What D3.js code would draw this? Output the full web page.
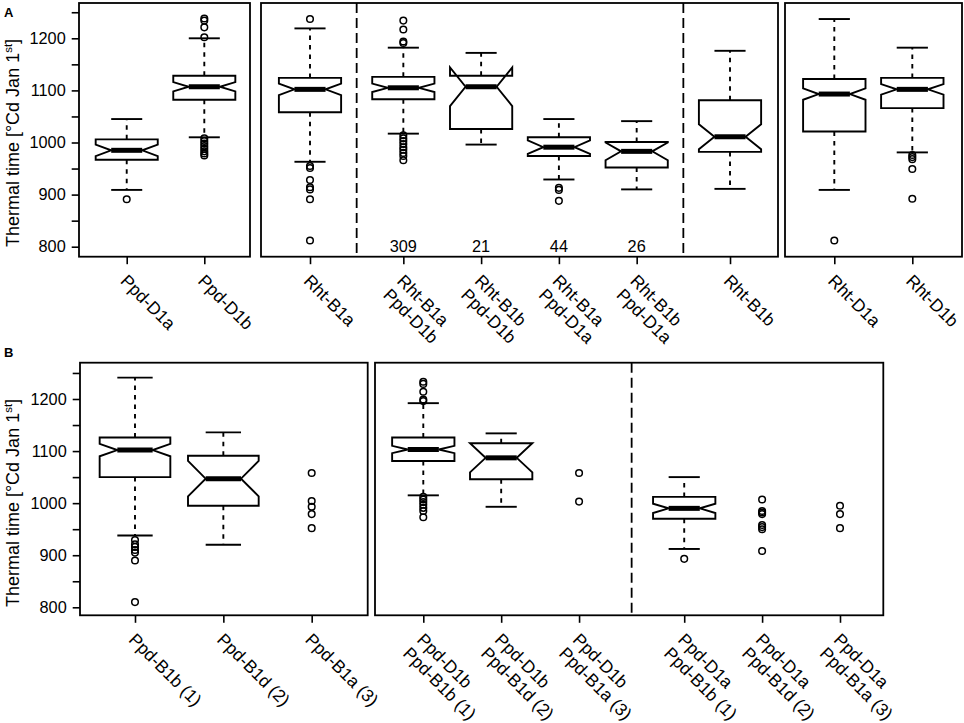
<!DOCTYPE html>
<html><head><meta charset="utf-8">
<script src="https://cdn.jsdelivr.net/npm/d3@7"></script>
<style>
body{margin:0;background:#fff}
svg{display:block}
text{font-family:"Liberation Sans",Arial,Helvetica,sans-serif;fill:#000}
</style>
</head><body>
<svg id="c" width="964" height="723"></svg>
<script>
// ---------------- DATA ----------------
const yTickValues = [800, 850, 900, 950, 1000, 1050, 1100, 1150, 1200, 1250];
const yTickLabels = [800, 900, 1000, 1100, 1200];
const yTitleMain = "Thermal time [°Cd Jan 1";
const yTitleSup = "st";
const yTitleEnd = "]";
const rowLabels = ["A", "B"];

// stats: [lower whisker, Q1, median, Q3, upper whisker]; notch = half-width of notch (units)
const a1Cats = ["Ppd-D1a", "Ppd-D1b"];
const a1Stats = [[909, 967, 985, 1006, 1045], [1010, 1082, 1107, 1128, 1200]];
const a1Notch = [11, 9];
const a1Out = [[891], [1238, 1234, 1221, 1202, 1008, 1003, 998, 993, 988, 983, 979, 975]];

const a2Cats = ["Rht-B1a", "Rht-B1a\nPpd-D1b", "Rht-B1b\nPpd-D1b", "Rht-B1a\nPpd-D1a", "Rht-B1b\nPpd-D1a", "Rht-B1b"];
const a2Groups = [1, 4, 1];
const a2Stats = [[963, 1058, 1102, 1124, 1219], [1017, 1083, 1105, 1126, 1182], [996, 1026, 1107, 1128, 1172],
                 [929, 974, 991, 1010, 1045], [910, 952, 983, 1001, 1041], [911, 982, 1011, 1081, 1176]];
const a2Notch = [11, 8, 37, 13, 17, 24];
const a2Out = [[1237, 955, 951, 928, 914, 910, 891, 812],
               [1234, 1217, 1194, 1191, 1014, 1008, 1003, 997, 991, 986, 980, 974, 966],
               [], [913, 909, 888], [], []];
const a2Counts = ["", "309", "21", "44", "26", ""];

const a3Cats = ["Rht-D1a", "Rht-D1b"];
const a3Stats = [[909, 1021, 1093, 1122, 1237], [981, 1066, 1102, 1124, 1182]];
const a3Notch = [11, 10];
const a3Out = [[812], [976, 972, 968, 949, 892]];

const b1Cats = ["Ppd-B1b (1)", "Ppd-B1d (2)", "Ppd-B1a (3)"];
const b1Stats = [[938, 1050, 1102, 1126, 1241], [920, 995, 1047, 1091, 1136], null];
const b1Notch = [12, 34, 0];
const b1Out = [[929, 921, 916, 910, 905, 890, 810], [], [1058, 1004, 993, 979, 952]];

const b2Cats = ["Ppd-D1b\nPpd-B1b (1)", "Ppd-D1b\nPpd-B1d (2)", "Ppd-D1b\nPpd-B1a (3)",
                "Ppd-D1a\nPpd-B1b (1)", "Ppd-D1a\nPpd-B1d (2)", "Ppd-D1a\nPpd-B1a (3)"];
const b2Groups = [3, 3];
const b2Stats = [[1015, 1081, 1103, 1126, 1192], [993, 1046, 1087, 1115, 1134], null,
                 [912, 970, 990, 1012, 1050], null, null];
const b2Notch = [7, 28, 0, 9, 0, 0];
const b2Out = [[1233, 1229, 1214, 1199, 1196, 1012, 1007, 1002, 997, 991, 985, 973],
               [], [1058, 1003], [893], [1007, 985, 982, 979, 958, 954, 950, 908], [995, 979, 952]];

// ---------------- LAYOUT ----------------
const rows = {
  A: {top: 3, bottom: 256.7, yDomain: [800, 1200], yRange: [246.7, 38.3], label: [4, 16.5], titleY: 143},
  B: {top: 362.7, bottom: 615.3, yDomain: [800, 1200], yRange: [607.3, 399], label: [4, 357], titleY: 503}
};
const panels = [
  {row: "A", x0: 79, x1: 250, mL: 0.615, mR: 0.589, gap: 0, cats: a1Cats, groups: [2], stats: a1Stats, notch: a1Notch, out: a1Out, yAxis: true},
  {row: "A", x0: 261, x1: 778, mL: 0.63, mR: 0.617, gap: 0.2, cats: a2Cats, groups: a2Groups, stats: a2Stats, notch: a2Notch, out: a2Out, counts: a2Counts},
  {row: "A", x0: 785, x1: 962, mL: 0.632, mR: 0.637, gap: 0, cats: a3Cats, groups: [2], stats: a3Stats, notch: a3Notch, out: a3Out},
  {row: "B", x0: 80, x1: 367.7, mL: 0.6225, mR: 0.634, gap: 0, cats: b1Cats, groups: [3], stats: b1Stats, notch: b1Notch, out: b1Out, yAxis: true},
  {row: "B", x0: 375, x1: 883.3, mL: 0.62, mR: 0.556, gap: 0.35, cats: b2Cats, groups: b2Groups, stats: b2Stats, notch: b2Notch, out: b2Out}
];
const FS = 16.3;
const FSX = 17.5;

const svg = d3.select("#c");

panels.forEach(p => {
  const r = rows[p.row];
  const y = d3.scaleLinear().domain(r.yDomain).range(r.yRange);
  // positions with gaps between groups
  const pos = [];
  const breaks = [];
  let idx = 0, off = 0;
  p.groups.forEach((n, gi) => {
    for (let k = 0; k < n; k++) { pos.push(idx + 1 + off); idx++; }
    if (gi < p.groups.length - 1) { breaks.push(idx + off + 0.5 + p.gap / 2); off += p.gap; }
  });
  const x = d3.scaleLinear().domain([pos[0] - p.mL, pos[pos.length - 1] + p.mR]).range([p.x0, p.x1]);
  const unit = x(2) - x(1);
  const w = 0.8 * unit;
  const g = svg.append("g");

  // dashed separators
  breaks.forEach(b => {
    g.append("line").attr("x1", x(b)).attr("x2", x(b)).attr("y1", r.top).attr("y2", r.bottom)
      .attr("stroke", "#000").attr("stroke-width", 1.8).attr("stroke-dasharray", "10,5");
  });

  p.cats.forEach((c, i) => {
    const cx = x(pos[i]);
    const s = p.stats[i];
    if (s) {
      const [lo, q1, med, q3, hi] = s;
      const nLo = med - p.notch[i], nHi = med + p.notch[i];
      // whiskers
      [[q3, hi], [q1, lo]].forEach(([a, b]) => {
        g.append("line").attr("x1", cx).attr("x2", cx).attr("y1", y(a)).attr("y2", y(b))
          .attr("stroke", "#000").attr("stroke-width", 1.9).attr("stroke-dasharray", "4.5,5");
      });
      // caps
      [lo, hi].forEach(v => {
        g.append("line").attr("x1", cx - w / 4).attr("x2", cx + w / 4).attr("y1", y(v)).attr("y2", y(v))
          .attr("stroke", "#000").attr("stroke-width", 1.9);
      });
      // notched box
      const L = cx - w / 2, R = cx + w / 2;
      const pts = [[L, y(q1)], [L, y(nLo)], [cx - w / 4, y(med)], [L, y(nHi)], [L, y(q3)],
                   [R, y(q3)], [R, y(nHi)], [cx + w / 4, y(med)], [R, y(nLo)], [R, y(q1)]];
      g.append("polygon").attr("points", pts.map(d => d.join(",")).join(" "))
        .attr("fill", "#fff").attr("stroke", "#000").attr("stroke-width", 1.9).attr("stroke-linejoin", "miter");
      // median
      g.append("line").attr("x1", cx - w / 4).attr("x2", cx + w / 4).attr("y1", y(med)).attr("y2", y(med))
        .attr("stroke", "#000").attr("stroke-width", 5);
    }
    // outliers
    p.out[i].forEach(v => {
      g.append("circle").attr("cx", cx).attr("cy", y(v)).attr("r", 3.3)
        .attr("fill", "none").attr("stroke", "#000").attr("stroke-width", 1.5);
    });
    // counts
    if (p.counts && p.counts[i]) {
      g.append("text").attr("x", cx).attr("y", r.bottom - 5).attr("text-anchor", "middle")
        .attr("font-size", FS).text(p.counts[i]);
    }
    // x labels
    const lines = c.split("\n");
    const t = g.append("text").attr("font-size", FSX)
      .attr("transform", `translate(${cx - 3},${r.bottom + 21}) rotate(45)`);
    lines.forEach((ln, li) => {
      t.append("tspan").attr("x", 0).attr("dy", li === 0 ? "0.35em" : "1.12em").text(ln);
    });
  });

  // bottom ticks
  const xa = g.append("g").attr("transform", `translate(0,${r.bottom})`)
    .call(d3.axisBottom(x).tickValues(pos).tickSize(7.5).tickFormat(""));
  xa.select(".domain").remove();
  xa.selectAll("line").attr("stroke-width", 1.6);

  // left axis
  if (p.yAxis) {
    const ya = g.append("g").attr("transform", `translate(${p.x0},0)`)
      .call(d3.axisLeft(y).tickValues(yTickValues).tickSize(7.3).tickPadding(6)
        .tickFormat(d => yTickLabels.includes(d) ? d : ""));
    ya.select(".domain").remove();
    ya.selectAll("line").attr("stroke-width", 1.6);
    ya.selectAll("text").attr("font-size", FS).attr("font-family", null);
    const tt = g.append("text").attr("font-size", 18).attr("text-anchor", "middle")
      .attr("transform", `translate(18.5,${r.titleY}) rotate(-90)`);
    tt.append("tspan").text(yTitleMain);
    tt.append("tspan").attr("font-size", 11.5).attr("dy", "-0.55em").text(yTitleSup);
    tt.append("tspan").attr("dy", "0.35em").text(yTitleEnd);
  }

  // panel border
  g.append("rect").attr("x", p.x0).attr("y", r.top).attr("width", p.x1 - p.x0).attr("height", r.bottom - r.top)
    .attr("fill", "none").attr("stroke", "#000").attr("stroke-width", 1.8);
});

// row labels
["A", "B"].forEach((k, i) => {
  svg.append("text").attr("x", rows[k].label[0]).attr("y", rows[k].label[1])
    .attr("font-size", 13).attr("font-weight", "bold").text(rowLabels[i]);
});
</script>
</body></html>
